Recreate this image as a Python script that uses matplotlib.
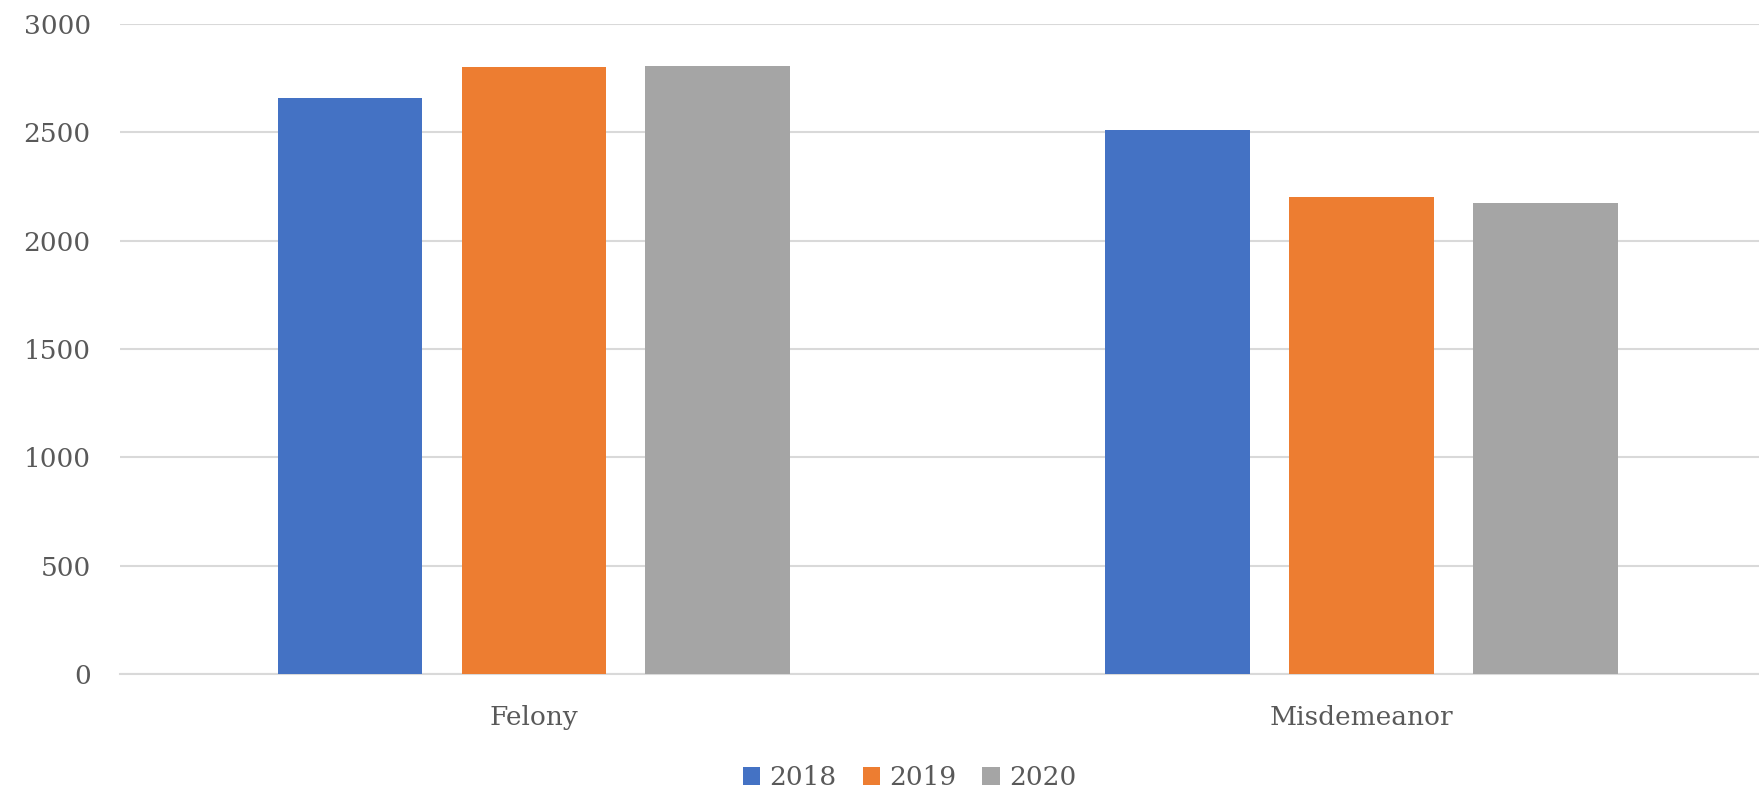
import matplotlib
matplotlib.use("Agg")
import matplotlib.pyplot as plt
import numpy as np

categories = ["Felony", "Misdemeanor"]
years = ["2018", "2019", "2020"]
values_2018 = [2657, 2511]
values_2019 = [2801, 2203]
values_2020 = [2807, 2171]
colors = ["#4472C4", "#ED7D31", "#A5A5A5"]

plt.rcParams['font.family'] = ['DejaVu Serif']
text_color = "#595959"

fig = plt.figure(figsize=(17.59, 7.93), dpi=100)
ax = fig.add_axes([0.0682, 0.150, 0.9413, 0.820])

x = np.arange(len(categories))
width = 0.1748
offset = 0.2222
series = [values_2018, values_2019, values_2020]
for i, (yr, vals, c) in enumerate(zip(years, series, colors)):
    ax.bar(x + (i - 1) * offset, vals, width, color=c, label=yr, zorder=3)

ax.set_xlim(-0.5, 1.5)
ax.set_ylim(0, 3000)
ax.set_yticks(np.arange(0, 3001, 500))
ax.yaxis.grid(True, color="#D9D9D9", linewidth=1.5, zorder=0)
ax.set_axisbelow(True)
for s in ["top", "right", "left"]:
    ax.spines[s].set_visible(False)
ax.spines["bottom"].set_color("#D9D9D9")
ax.spines["bottom"].set_linewidth(1.5)
ax.set_xticks(x)
ax.set_xticklabels(categories)
ax.tick_params(axis="both", length=0, labelsize=19, colors=text_color)
ax.tick_params(axis="y", pad=21)
ax.tick_params(axis="x", pad=22)

leg = fig.legend(loc="center", bbox_to_anchor=(0.517, 0.019), ncol=3, frameon=False,
                 fontsize=19, handlelength=0.65, handleheight=0.65,
                 handletextpad=0.35, columnspacing=1.0)
for t in leg.get_texts():
    t.set_color(text_color)

fig.savefig("out.png", dpi=100)
